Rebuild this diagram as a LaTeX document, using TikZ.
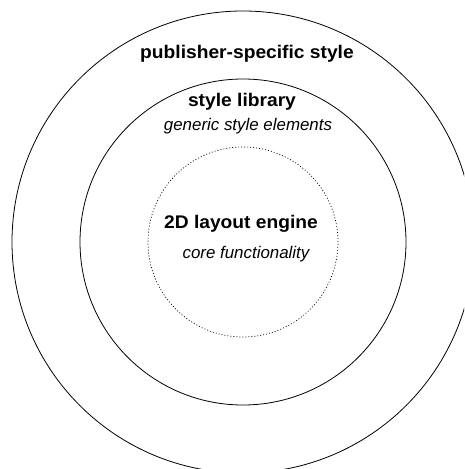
\documentclass[tikz,border=0pt]{standalone}
\usepackage{fontspec}
\setmainfont{Liberation Sans}
\newfontfamily\headfont[FakeStretch=1.05]{Liberation Sans}
\usetikzlibrary{positioning}

\begin{document}
\begin{tikzpicture}[x=1pt,y=-1pt,
                    ring/.style={circle,draw,line width=0.8pt,inner sep=0pt},
                    core/.style={ring,line width=0.7pt,dash pattern=on 1pt off 2pt},
                    title/.style={anchor=base,inner sep=0pt,font=\headfont\bfseries\fontsize{18.3}{21}\selectfont},
                    note/.style={anchor=base,inner sep=0pt,font=\itshape\fontsize{16.9}{20}\selectfont}]
  \useasboundingbox (0,0) rectangle (464,469);
  \clip (0,0) rectangle (464,469);

  \node[ring,minimum size=462pt] (publisher) at (243,242) {};
  \node[ring,minimum size=326pt] (library)   at (243,242) {};
  \node[core,minimum size=190pt] (engine)    at (243,242) {};

  \node[title] (publisherTitle) at (247,58.5)  {publisher-specific style};
  \node[title] (libraryTitle)   at (242,106.3) {style library};
  \node[note]  (libraryNote)    at (248,130.7) {generic style elements};
  \node[title] (engineTitle)    at (241,228.3) {2D layout engine};
  \node[note]  (engineNote)     at (246,258.3) {core functionality};

\end{tikzpicture}
\end{document}
